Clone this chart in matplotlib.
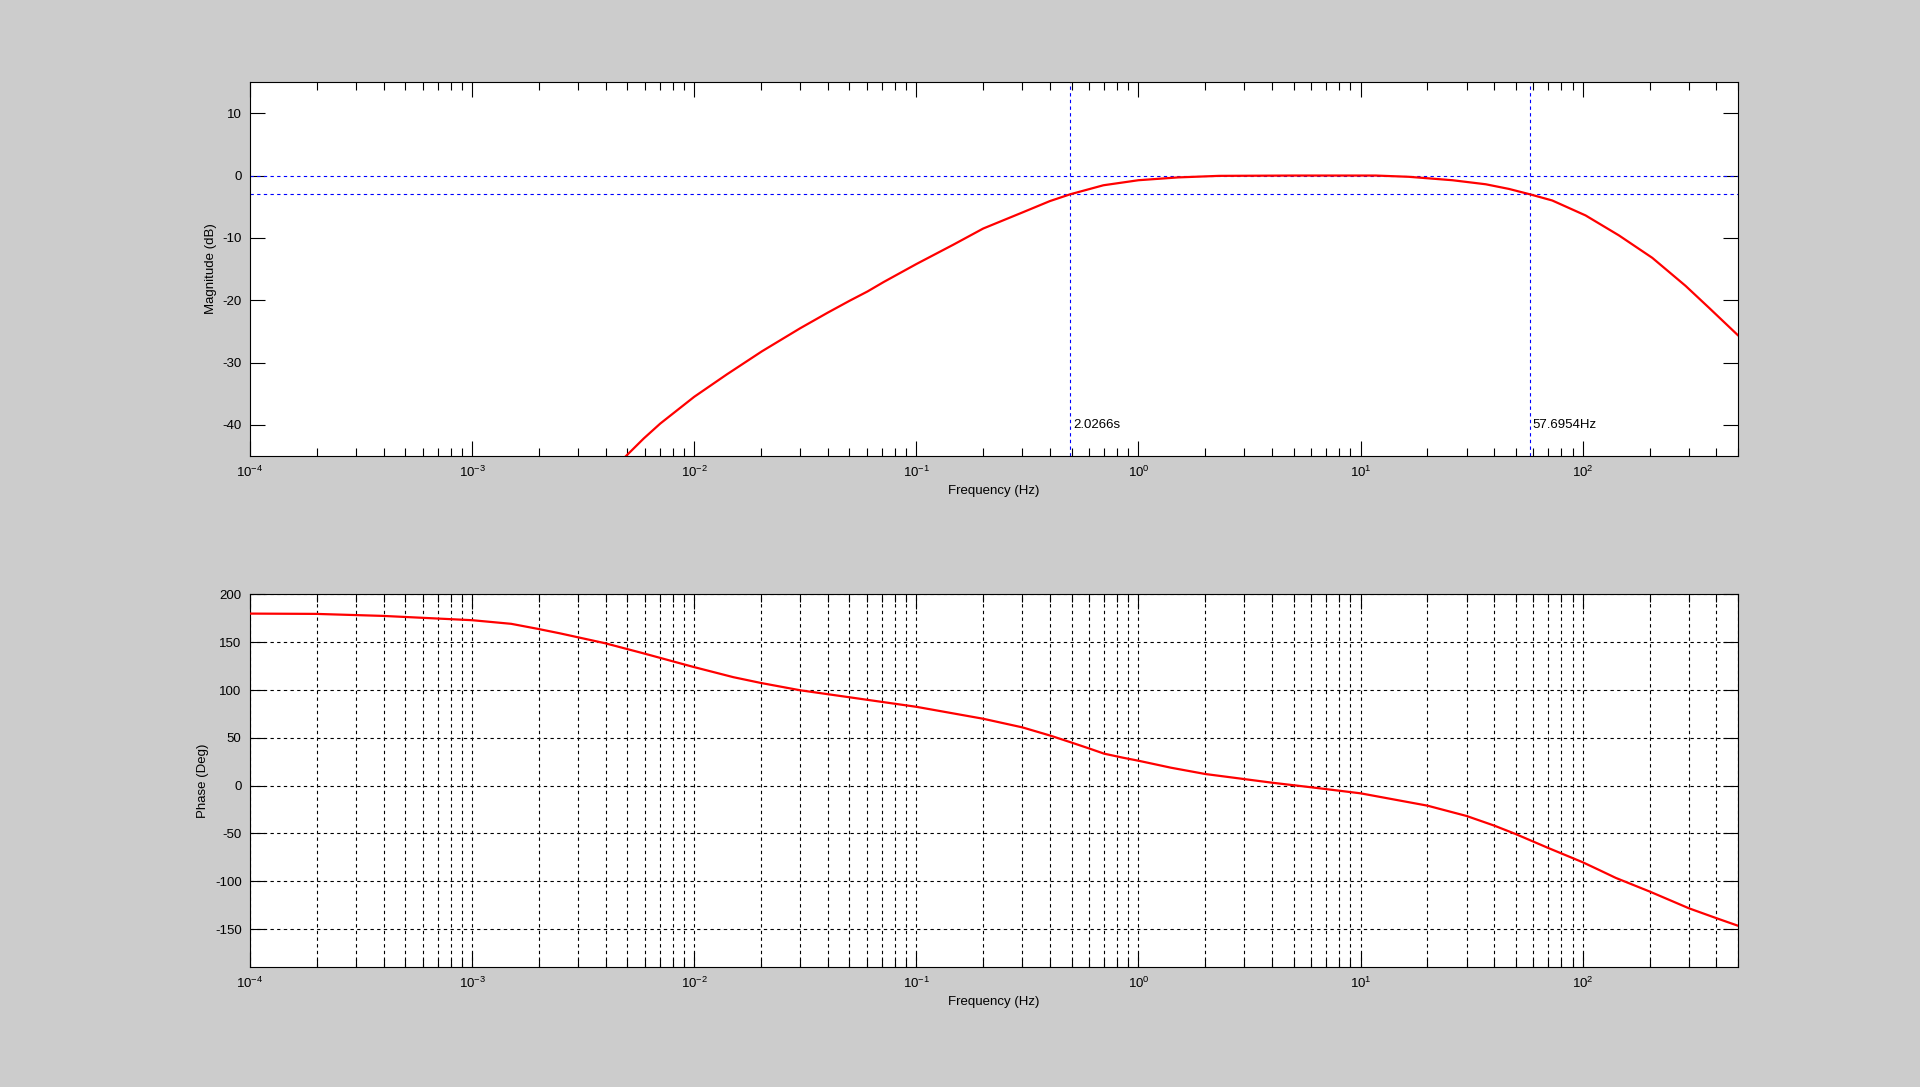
import matplotlib.pyplot as plt
import numpy as np

plt.rcParams['font.family'] = ['Liberation Sans', 'DejaVu Sans']
plt.rcParams['font.size'] = 9.5
plt.rcParams['axes.unicode_minus'] = False

# magnitude curve (Hz, dB)
mag_freq = [0.0049, 0.00592, 0.00703, 0.01, 0.01403, 0.02018, 0.03, 0.0399, 0.05, 0.06026,
            0.07112, 0.1, 0.1466, 0.2, 0.3013, 0.399, 0.4934, 0.695, 1.0, 1.503,
            2.307, 5.0, 11.7, 16.5, 25.9, 36.6, 46.6, 57.6954, 72.9, 103.0,
            145.5, 205.6, 290.4, 369.8, 498.9]
mag_db = [-45.1, -42.2, -39.8, -35.5, -31.9, -28.2, -24.5, -22.0, -20.1, -18.6,
          -17.1, -14.2, -11.1, -8.5, -5.9, -4.1, -3.0, -1.56, -0.75, -0.3,
          -0.05, 0.0, 0.0, -0.2, -0.75, -1.4, -2.15, -3.0, -4.0, -6.4,
          -9.6, -13.2, -17.7, -21.2, -25.6]

# phase curve (Hz, deg)
ph_freq = [1e-4, 0.000198, 0.000396, 0.001, 0.0015, 0.00198, 0.00248, 0.00397, 0.00596, 0.00902,
           0.01, 0.015, 0.02, 0.03, 0.0499, 0.1, 0.2, 0.3, 0.402, 0.501,
           0.6, 0.7, 0.85, 1.0, 1.4, 2.0, 4.0, 6.0, 10, 20.0,
           30.0, 40.0, 49.8, 70.0, 100, 118.6, 141, 201, 301, 402,
           500]
ph_deg = [180.0, 179.7, 177.6, 173.1, 169.3, 164.0, 159.4, 149.0, 138.2, 126.8,
          124.0, 113.5, 107.4, 99.8, 92.5, 82.5, 70.0, 61.0, 52.3, 45.0,
          38.9, 33.5, 29.3, 26.1, 18.8, 12.2, 3.1, -1.7, -8.0, -20.9,
          -31.7, -41.8, -50.5, -65.2, -80.1, -88.2, -96.5, -110.9, -128.3, -138.8,
          -146.5]

f_low = 1 / 2.0266
f_high = 57.6954
low_label = '2.0266s'
high_label = '57.6954Hz'
ref_levels = [0, -3]

xmajor = [1e-4, 1e-3, 1e-2, 1e-1, 1e0, 1e1, 1e2]

fig = plt.figure(figsize=(19.2, 10.87), dpi=100)
fig.patch.set_facecolor('#cccccc')

ax1 = fig.add_axes([0.1302, 0.5805, 0.775, 0.344])
ax2 = fig.add_axes([0.1302, 0.1101, 0.775, 0.343])

dot = (0, (3, 3))

# magnitude
for lev in ref_levels:
    ax1.axhline(lev, color='#0000ff', lw=0.8, ls=dot, zorder=1)
ax1.axvline(f_low, color='#0000ff', lw=0.8, ls=dot, zorder=1)
ax1.axvline(f_high, color='#0000ff', lw=0.8, ls=dot, zorder=1)
ax1.plot(mag_freq, mag_db, color='red', lw=1.6, zorder=3)
ax1.text(f_low * 1.03, -40, low_label, va='center', ha='left', fontsize=9.5)
ax1.text(f_high * 1.03, -40, high_label, va='center', ha='left', fontsize=9.5)
ax1.set_xscale('log')
ax1.set_xlim(1e-4, 500)
ax1.set_ylim(-45, 15)
ax1.set_yticks([-40, -30, -20, -10, 0, 10])
ax1.set_xlabel('Frequency (Hz)')
ax1.set_ylabel('Magnitude (dB)')

# phase
ax2.plot(ph_freq, ph_deg, color='red', lw=1.6, zorder=3)
ax2.set_xscale('log')
ax2.set_xlim(1e-4, 500)
ax2.set_ylim(-190, 200)
ax2.set_yticks([-150, -100, -50, 0, 50, 100, 150, 200])
ax2.grid(True, which='both', axis='x', color='black', lw=0.8, ls=dot)
ax2.grid(True, which='major', axis='y', color='black', lw=0.8, ls=dot)
ax2.set_xlabel('Frequency (Hz)')
ax2.set_ylabel('Phase (Deg)')

for ax in [ax1, ax2]:
    ax.set_xticks(xmajor)
    ax.set_facecolor('white')
    ax.tick_params(which='both', direction='in', top=True, right=True, colors='black')
    ax.tick_params(which='major', length=11, width=0.8, pad=6)
    ax.tick_params(which='minor', length=5.5, width=0.8)
    for s in ax.spines.values():
        s.set_linewidth(0.8)
    ax.set_axisbelow(True)

plt.savefig('out.png', dpi=100, facecolor=fig.get_facecolor())
